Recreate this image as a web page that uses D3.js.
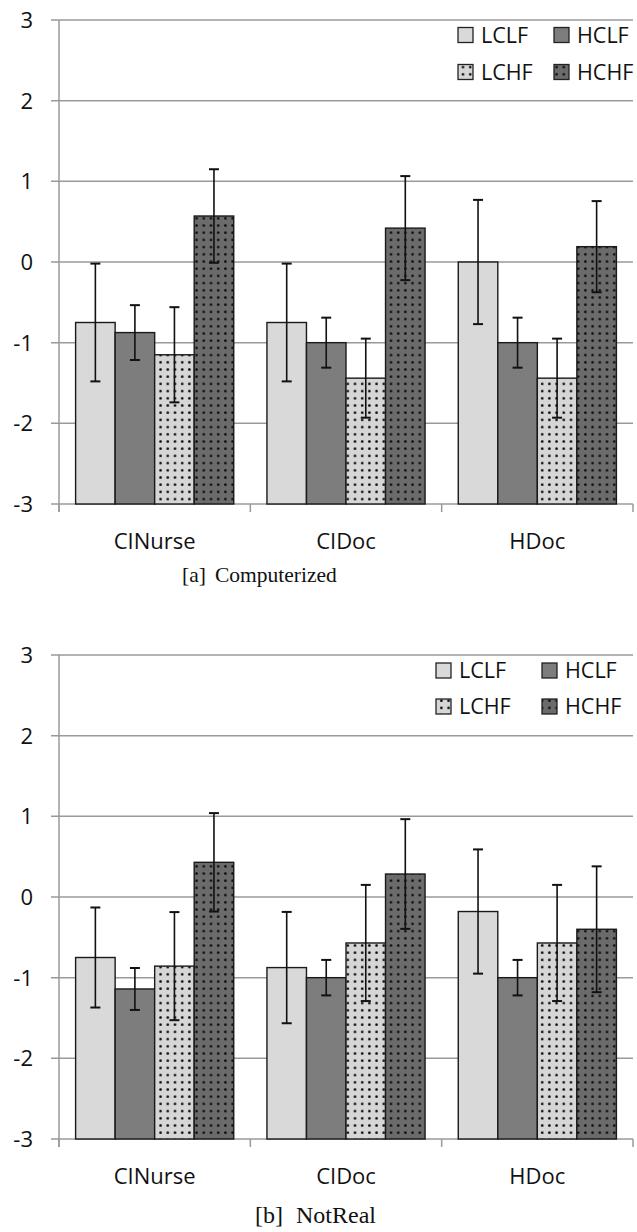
<!DOCTYPE html>
<html><head><meta charset="utf-8">
<script src="https://cdn.jsdelivr.net/npm/d3@7"></script>
<style>
html,body{margin:0;padding:0;background:#fff;}
svg{display:block;}
</style>
</head><body>
<svg id="c" width="637" height="1232"></svg>
<script>
const categories = ["CINurse", "CIDoc", "HDoc"];
const seriesNames = ["LCLF", "HCLF", "LCHF", "HCHF"];
const yTicks = [-3, -2, -1, 0, 1, 2, 3];

// [a] Computerized
const aLCLF = [-0.75, -0.75, 0.0];
const aHCLF = [-0.875, -1.0, -1.0];
const aLCHF = [-1.15, -1.44, -1.44];
const aHCHF = [0.57, 0.42, 0.19];
const aErrLCLF = [0.73, 0.73, 0.77];
const aErrHCLF = [0.34, 0.31, 0.31];
const aErrLCHF = [0.59, 0.49, 0.49];
const aErrHCHF = [0.58, 0.645, 0.565];

// [b] NotReal
const bLCLF = [-0.75, -0.875, -0.18];
const bHCLF = [-1.14, -1.0, -1.0];
const bLCHF = [-0.857, -0.57, -0.57];
const bHCHF = [0.43, 0.285, -0.40];
const bErrLCLF = [0.62, 0.69, 0.77];
const bErrHCLF = [0.26, 0.22, 0.22];
const bErrLCHF = [0.67, 0.72, 0.72];
const bErrHCHF = [0.61, 0.68, 0.78];

const captionA = ["[a]", "Computerized"];
const captionB = ["[b]", "NotReal"];

const svg = d3.select("#c");
const defs = svg.append("defs");
function dotPattern(id, bg) {
  const p = defs.append("pattern").attr("id", id).attr("patternUnits", "userSpaceOnUse")
    .attr("width", 7.2).attr("height", 7.2);
  p.append("rect").attr("width", 7.2).attr("height", 7.2).attr("fill", bg);
  p.append("circle").attr("cx", 2.2).attr("cy", 2.2).attr("r", 1.35).attr("fill", "#111");
}
dotPattern("dotLight", "#d6d6d6");
dotPattern("dotDark", "#6b6b6b");
const fills = { LCLF: "#d9d9d9", HCLF: "#7d7d7d", LCHF: "url(#dotLight)", HCHF: "url(#dotDark)" };

function drawChart(opt) {
  const g = svg.append("g");
  const x = d3.scaleBand().domain(categories).range([59, 633]);
  const xi = d3.scaleBand().domain(seriesNames).range([0, x.bandwidth()]).paddingInner(0).paddingOuter(0.42);
  const y = d3.scaleLinear().domain([-3, 3]).range([opt.bottom, opt.top]);

  g.selectAll(".grid").data(yTicks).join("line")
    .attr("x1", 51).attr("x2", 633)
    .attr("y1", d => y(d)).attr("y2", d => y(d))
    .attr("stroke", "#9a9a9a").attr("stroke-width", 1.5);
  g.append("line").attr("x1", 59).attr("x2", 59).attr("y1", y(3)).attr("y2", y(-3) + 8)
    .attr("stroke", "#9a9a9a").attr("stroke-width", 1.5);
  const bounds = categories.map(c => x(c) + x.bandwidth()).concat([59]);
  g.selectAll(".xt").data(bounds).join("line")
    .attr("x1", d => d).attr("x2", d => d).attr("y1", y(-3)).attr("y2", y(-3) + 8)
    .attr("stroke", "#9a9a9a").attr("stroke-width", 1.5);

  g.selectAll(".yl").data(yTicks).join("text")
    .attr("x", 33).attr("y", d => y(d)).attr("dy", "0.36em")
    .attr("text-anchor", "end").attr("font-family", "Open Sans").attr("font-size", 22)
    .attr("fill", "#111").text(d => d);

  const rows = [];
  categories.forEach((c, i) => seriesNames.forEach(s => rows.push({ c, s, v: opt.vals[s][i], e: opt.errs[s][i] })));
  g.selectAll(".bar").data(rows).join("rect")
    .attr("x", d => x(d.c) + xi(d.s)).attr("width", xi.bandwidth())
    .attr("y", d => y(d.v)).attr("height", d => y(-3) - y(d.v))
    .attr("fill", d => fills[d.s]).attr("stroke", "#1a1a1a").attr("stroke-width", 1.4);

  const eb = g.selectAll(".eb").data(rows).join("g");
  eb.append("line")
    .attr("x1", d => x(d.c) + xi(d.s) + xi.bandwidth() / 2).attr("x2", d => x(d.c) + xi(d.s) + xi.bandwidth() / 2)
    .attr("y1", d => y(d.v + d.e)).attr("y2", d => y(d.v - d.e))
    .attr("stroke", "#111").attr("stroke-width", 1.6);
  [1, -1].forEach(sg => {
    eb.append("line")
      .attr("x1", d => x(d.c) + xi(d.s) + xi.bandwidth() / 2 - 5).attr("x2", d => x(d.c) + xi(d.s) + xi.bandwidth() / 2 + 5)
      .attr("y1", d => y(d.v + sg * d.e)).attr("y2", d => y(d.v + sg * d.e))
      .attr("stroke", "#111").attr("stroke-width", 2);
  });

  g.selectAll(".cl").data(categories).join("text")
    .attr("x", d => x(d) + x.bandwidth() / 2).attr("y", y(-3) + 45)
    .attr("text-anchor", "middle").attr("font-family", "Open Sans").attr("font-size", 22)
    .attr("fill", "#111").text(d => d);

  const lg = g.append("g");
  seriesNames.forEach((s, i) => {
    const col = i % 2, row = Math.floor(i / 2);
    const bx = opt.legX[col], cy = opt.legY[row];
    lg.append("rect").attr("x", bx).attr("y", cy - 7.5).attr("width", 15).attr("height", 15)
      .attr("fill", fills[s]).attr("stroke", "#222").attr("stroke-width", 1.3);
    lg.append("text").attr("x", bx + 23).attr("y", cy).attr("dy", "0.36em")
      .attr("font-family", "Open Sans").attr("font-size", 21.5).attr("fill", "#111").text(s);
  });

  const cap = g.append("text").attr("y", opt.capY).attr("font-family", "Liberation Serif")
    .attr("font-size", opt.capSize).attr("fill", "#111");
  cap.append("tspan").attr("x", opt.capX[0]).text(opt.caption[0]);
  cap.append("tspan").attr("x", opt.capX[1]).text(opt.caption[1]);
}

drawChart({
  top: 20, bottom: 504,
  vals: { LCLF: aLCLF, HCLF: aHCLF, LCHF: aLCHF, HCHF: aHCHF },
  errs: { LCLF: aErrLCLF, HCLF: aErrHCLF, LCHF: aErrLCHF, HCHF: aErrHCHF },
  legX: [458, 554], legY: [35, 72],
  caption: captionA, capX: [182, 215], capY: 582, capSize: 21.5
});
drawChart({
  top: 655, bottom: 1139,
  vals: { LCLF: bLCLF, HCLF: bHCLF, LCHF: bLCHF, HCHF: bHCHF },
  errs: { LCLF: bErrLCLF, HCLF: bErrHCLF, LCHF: bErrLCHF, HCHF: bErrHCHF },
  legX: [436, 542], legY: [670.5, 706.5],
  caption: captionB, capX: [255, 296], capY: 1223, capSize: 24
});
</script>
</body></html>
